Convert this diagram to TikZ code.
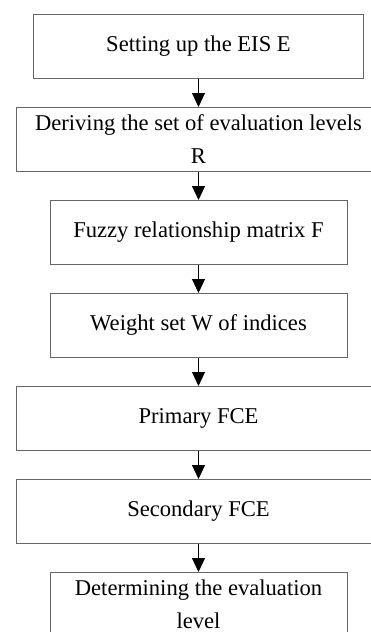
\documentclass[tikz,border=0pt]{standalone}
\usepackage{fontspec}
\setmainfont{Liberation Serif}
\usetikzlibrary{positioning,arrows.meta}

\begin{document}
\begin{tikzpicture}[x=1pt,y=1pt,>={Triangle[width=13pt,length=14pt]},node distance=28.5pt,
    every node/.style={draw=black!60,line width=0.9pt,rectangle,minimum height=64.5pt,outer sep=0pt,
      inner sep=2pt,align=center,font=\fontsize{22.6}{33}\selectfont}]
  \useasboundingbox (0,0) rectangle (371,-632);
  \clip (0,0) rectangle (371,-632);
        \node[minimum width=330pt] (setup) at (198.5,-46.25) {Setting up the EIS E};
        \node[minimum width=364pt,below=of setup] (levels) {Deriving the set of evaluation levels\\R};
        \node[minimum width=297pt,below=of levels] (fuzzy) {Fuzzy relationship matrix F};
        \node[minimum width=297pt,below=of fuzzy] (weight) {Weight set W of indices};
        \node[minimum width=364pt,below=of weight] (primary) {Primary FCE};
        \node[minimum width=364pt,below=of primary] (secondary) {Secondary FCE};
        \node[minimum width=297pt,below=of secondary] (level) {Determining the evaluation\\level};

        \draw[->,line width=1pt] (setup) -- (levels);
        \draw[->,line width=1pt] (levels) -- (fuzzy);
        \draw[->,line width=1pt] (fuzzy) -- (weight);
        \draw[->,line width=1pt] (weight) -- (primary);
        \draw[->,line width=1pt] (primary) -- (secondary);
        \draw[->,line width=1pt] (secondary) -- (level);
  \end{tikzpicture}
\end{document}
